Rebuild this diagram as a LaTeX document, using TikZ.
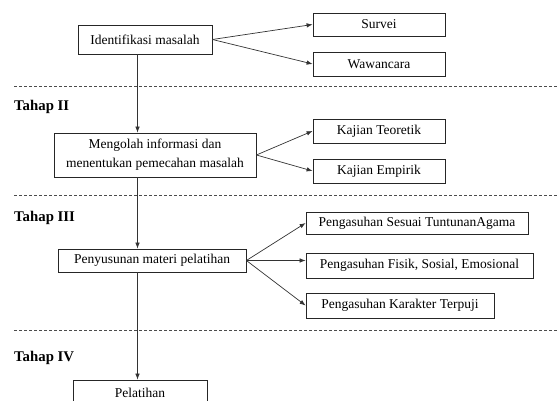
\documentclass[tikz,border=0pt]{standalone}
\usepackage{fontspec}
\setmainfont{Liberation Serif}
\usetikzlibrary{arrows.meta}
\begin{document}
\begin{tikzpicture}[x=1pt,y=-1pt,
  box/.style={draw=black!85,line width=0.8pt,inner sep=0pt,align=center,font=\fontsize{13.5}{19}\selectfont},
  lbl/.style={anchor=west,inner sep=0pt,font=\fontsize{14.8}{16}\selectfont\bfseries},
  arr/.style={draw=black!80,line width=0.7pt,-{Latex[length=6pt,width=4.5pt]}},
  sep/.style={draw=black!70,line width=0.6pt,dash pattern=on 3pt off 2pt}]
\useasboundingbox (0,0) rectangle (557,401);
\clip (0,0) rectangle (557,401);
% boxes
\node[box,minimum width=134pt,minimum height=29pt] (ident) at (145,39.5) {Identifikasi masalah};
\node[box,minimum width=132pt,minimum height=23pt] (survei) at (379,24.5) {Survei};
\node[box,minimum width=132pt,minimum height=24pt] (wawan) at (379,64) {Wawancara};
\node[box,minimum width=202pt,minimum height=44pt] (olah) at (155,155) {Mengolah informasi dan\\menentukan pemecahan masalah};
\node[box,minimum width=132pt,minimum height=24pt] (teori) at (379,131) {Kajian Teoretik};
\node[box,minimum width=132pt,minimum height=24pt] (empir) at (379,171) {Kajian Empirik};
\node[box,minimum width=188pt,minimum height=23pt] (susun) at (152,260.5) {Penyusunan materi pelatihan};
\node[box,minimum width=222pt,minimum height=22pt] (agama) at (417,223) {Pengasuhan Sesuai TuntunanAgama};
\node[box,minimum width=227pt,minimum height=25pt] (fisik) at (419.5,265.5) {Pengasuhan Fisik, Sosial, Emosional};
\node[box,minimum width=188pt,minimum height=25pt] (karak) at (400,305.5) {Pengasuhan Karakter Terpuji};
\node[box,minimum width=134pt,minimum height=26pt] (latih) at (140,393) {Pelatihan};
% stage labels
\node[lbl] (t2) at (14,107) {Tahap II};
\node[lbl] (t3) at (14,218) {Tahap III};
\node[lbl] (t4) at (14,358) {Tahap IV};
% separators
\coordinate (s1a) at (14,86); \coordinate (s1b) at (557,86);
\coordinate (s2a) at (14,195); \coordinate (s2b) at (557,195);
\coordinate (s3a) at (14,330.5); \coordinate (s3b) at (557,330.5);
\draw[sep] (s1a) -- (s1b);
\draw[sep] (s2a) -- (s2b);
\draw[sep] (s3a) -- (s3b);
% spine
\coordinate (spine) at (137.5,0);
\draw[arr] (ident.south -| spine) -- (olah.north -| spine);
\draw[arr] (olah.south -| spine) -- (susun.north -| spine);
\draw[arr] (susun.south -| spine) -- (latih.north -| spine);
% side arrows
\draw[arr] (ident.east) -- (survei.west);
\draw[arr] (ident.east) -- (wawan.west);
\draw[arr] (olah.east) -- (teori.west);
\draw[arr] (olah.east) -- (empir.west);
\draw[arr] (susun.east) -- (agama.west);
\draw[arr] (susun.east) -- (susun.east -| fisik.west);
\draw[arr] (susun.east) -- (karak.west);
\end{tikzpicture}
\end{document}
